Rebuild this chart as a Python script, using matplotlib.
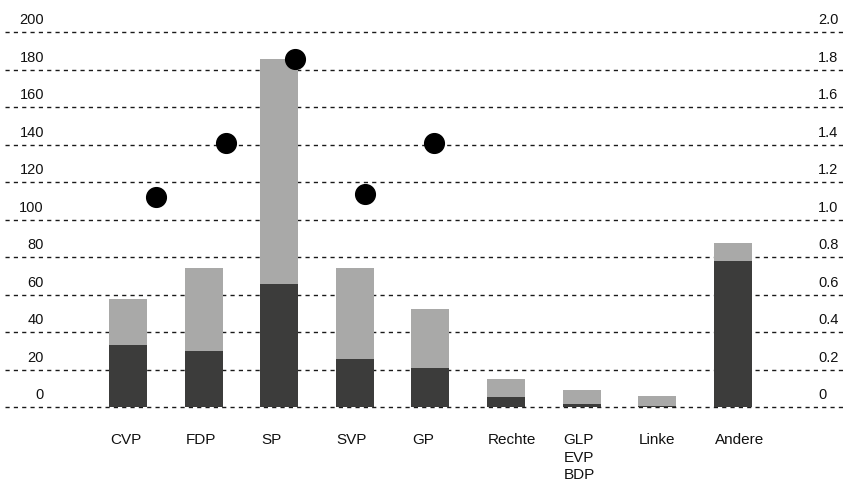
import matplotlib
matplotlib.use("Agg")
import matplotlib.pyplot as plt
import matplotlib.transforms as mtransforms
import numpy as np

plt.rcParams['font.family'] = ['Liberation Sans', 'DejaVu Sans']

# ---- data ----
categories = ["CVP", "FDP", "SP", "SVP", "GP", "Rechte", "GLP\nEVP\nBDP", "Linke", "Andere"]
dark_values = [33, 30, 66, 26, 21, 5.3, 1.6, 0.7, 78]
total_values = [57.5, 74.5, 186, 74.5, 52.3, 15, 9, 5.9, 87.5]
dot_categories = ["CVP", "FDP", "SP", "SVP", "GP"]
dot_values = [1.12, 1.41, 1.86, 1.14, 1.41]
left_ticks = [0, 20, 40, 60, 80, 100, 120, 140, 160, 180, 200]
left_tick_labels = ["0", "20", "40", "60", "80", "100", "120", "140", "160", "180", "200"]
right_ticks = [0, 0.2, 0.4, 0.6, 0.8, 1.0, 1.2, 1.4, 1.6, 1.8, 2.0]
right_tick_labels = ["0", "0.2", "0.4", "0.6", "0.8", "1.0", "1.2", "1.4", "1.6", "1.8", "2.0"]

DARK = "#3c3c3b"
LIGHT = "#a9a9a8"
BAR_W = 0.503

fig = plt.figure(figsize=(8.46, 4.85), dpi=100)
W, H = 846, 485
# axes spans x 5..846, y 26.7..412.9 px
ax = fig.add_axes([5 / W, (H - 413.9) / H, 841 / W, 386.2 / H])
ax.set_xlim(-1.627, 9.497)
ax.set_ylim(-3, 203)
for s in ax.spines.values():
    s.set_visible(False)
ax.set_xticks([])
ax.set_yticks([])

x = np.arange(len(categories))
light_part = [t - d for t, d in zip(total_values, dark_values)]

# gridlines
for v in left_ticks:
    ax.axhline(v, color="#1a1a1a", lw=1.0, ls=(0, (3, 3)), zorder=1)

ax.bar(x, dark_values, width=BAR_W, color=DARK, zorder=2, linewidth=0)
ax.bar(x, light_part, bottom=dark_values, width=BAR_W, color=LIGHT, zorder=2, linewidth=0)

# left tick labels
ytr = ax.get_yaxis_transform()
off = mtransforms.offset_copy(ytr, fig=fig, x=0, y=6, units='dots')
for v, lab in zip(left_ticks, left_tick_labels):
    ax.text((44 - 5) / 841, v, lab, transform=off, ha='right', va='bottom',
            fontsize=10.5, color="#111111")

# category labels (left-aligned with bar edge)
xtr = ax.get_xaxis_transform()
xoff = mtransforms.offset_copy(xtr, fig=fig, x=1, y=0, units='dots')
for xi, lab in zip(x, categories):
    ax.text(xi - BAR_W / 2, -0.05, lab, transform=xoff, ha='left', va='top', fontsize=11,
            color="#111111", multialignment='left', linespacing=1.32)

# right axis
ax2 = ax.twinx()
ax2.set_ylim(-0.03, 2.03)
for s in ax2.spines.values():
    s.set_visible(False)
ax2.set_yticks([])
ytr2 = ax2.get_yaxis_transform()
off2 = mtransforms.offset_copy(ytr2, fig=fig, x=0, y=6, units='dots')
for v, lab in zip(right_ticks, right_tick_labels):
    ax2.text((818 - 5) / 841, v, lab, transform=off2, ha='left', va='bottom',
             fontsize=10.5, color="#111111")

# dots (their own, slightly narrower point spacing)
dot_idx = np.array([categories.index(c) for c in dot_categories])
dot_x = 0.373 + dot_idx * 0.919
ax2.plot(dot_x, dot_values, 'o', color='black', markersize=14.2, zorder=5, clip_on=False)

fig.savefig("out.png", dpi=100)
